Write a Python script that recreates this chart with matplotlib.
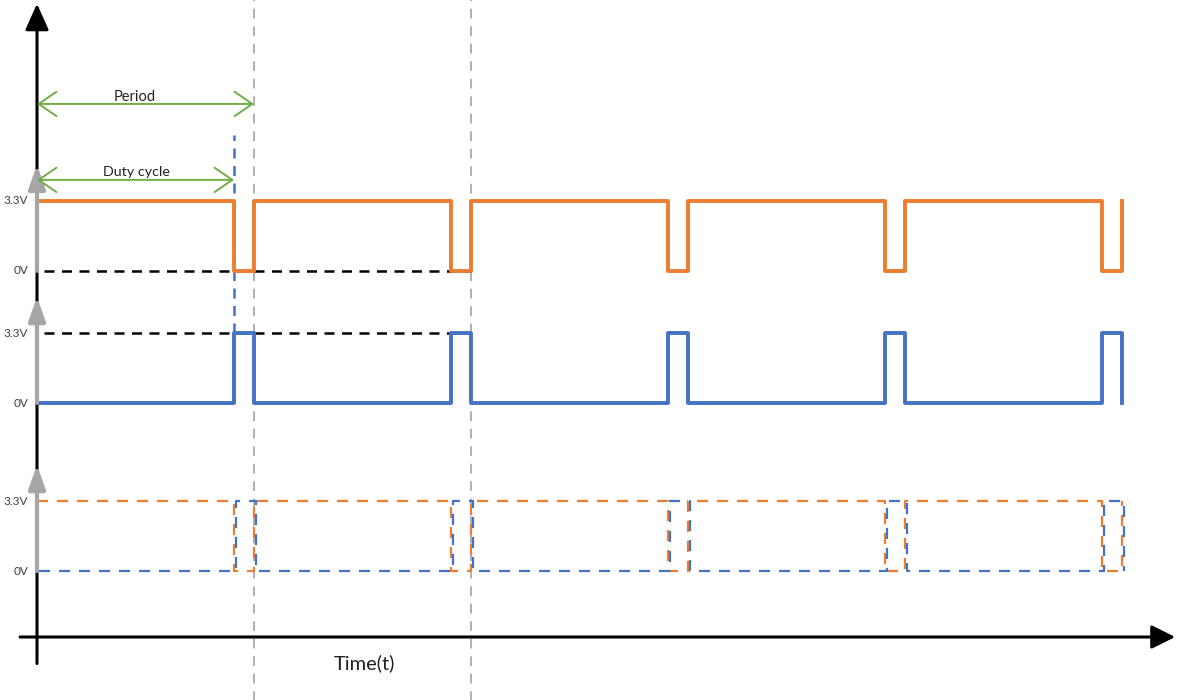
import numpy as np
import matplotlib.pyplot as plt

# fronts of the PWM signal (time in periods)
fall_t = [0.908, 1.908, 2.908, 3.908, 4.908]
rise_t = [1.0, 2.0, 3.0, 4.0, 5.0]
v_high = 3.3
v_low = 0.0

# vertical offset of each trace (diagram units, 1 unit = 1 V)
base_orange = 17.26
base_blue = 11.03
base_both = 3.11

level_labels = ['3.3V', '0V']
marker_t = [1.0, 2.0]   # grey dashed guides

ORANGE = '#ED7D31'
BLUE = '#4472C4'
GREEN = '#70AD47'
GREY = '#A6A6A6'

plt.rcParams['font.family'] = ['Lato', 'DejaVu Sans']


def pwm(falls, rises, lo, hi, inverted=False):
    a, b = (hi, lo) if not inverted else (lo, hi)
    xs, ys = [0.0], [a]
    for f, r in zip(falls, rises):
        xs += [f, f, r, r]
        ys += [a, b, b, a]
    return np.array(xs), np.array(ys)


fig = plt.figure(figsize=(11.79, 7.0), dpi=100)
ax = fig.add_axes([0, 0, 1, 1])
ax.set_xlim(-0.1705, 5.2627)
ax.set_ylim(-2.970, 30.03)
ax.axis('off')

# grey guides
for t in marker_t:
    ax.plot([t, t], [-3, 31], color='#B0B0B0', lw=1.4, ls=(0, (5, 4)), zorder=1)

# main axes with arrows
ax.annotate('', xy=(0, 29.85), xytext=(0, -1.25),
            arrowprops=dict(arrowstyle='-|>,head_length=1.0,head_width=0.45', color='black',
                            lw=2.2, mutation_scale=16, shrinkA=0, shrinkB=0), zorder=5)
ax.annotate('', xy=(5.245, 0), xytext=(-0.078, 0),
            arrowprops=dict(arrowstyle='-|>,head_length=0.9,head_width=0.45', color='black',
                            lw=2.2, mutation_scale=16, shrinkA=0, shrinkB=0), zorder=5)
ax.text(1.51, -1.25, 'Time(t)', fontsize=14.5, color='#222222', ha='center', va='center')

# grey level arrows and labels on every trace
for b in [base_orange, base_blue, base_both]:
    ax.annotate('', xy=(0, b + 5.0), xytext=(0, b),
                arrowprops=dict(arrowstyle='-|>,head_length=0.9,head_width=0.32', color=GREY,
                                lw=3.0, mutation_scale=16, shrinkA=0, shrinkB=0), zorder=6)
    ax.text(-0.04, b + v_high, level_labels[0], fontsize=8.5, color='#404040',
            ha='right', va='center')
    ax.text(-0.04, b + v_low, level_labels[1], fontsize=8.5, color='#404040',
            ha='right', va='center')

# trace 1: orange
x, y = pwm(fall_t, rise_t, v_low, v_high)
ax.plot(x, y + base_orange, color=ORANGE, lw=2.8, zorder=4)
ax.plot([0.03, 2.0], [base_orange, base_orange], color='black', lw=1.8, ls=(0, (4, 3)), zorder=3)

# trace 2: blue (inverted)
x, y = pwm(fall_t, rise_t, v_low, v_high, inverted=True)
ax.plot(x, y + base_blue, color=BLUE, lw=2.8, zorder=4)
ax.plot([0.03, 2.0], [base_blue + v_high, base_blue + v_high], color='black', lw=1.8,
        ls=(0, (4, 3)), zorder=3)

# blue dashed marker of the duty cycle end
ax.plot([fall_t[0], fall_t[0]], [base_blue + v_high, 23.67], color=BLUE, lw=1.8,
        ls=(0, (4, 3)), zorder=3)

# trace 3: both dashed
x, y = pwm(fall_t, rise_t, v_low, v_high)
ax.plot(x, y + base_both, color=ORANGE, lw=1.6, ls=(0, (5, 4)), zorder=3)
x, y = pwm(fall_t, rise_t, v_low, v_high, inverted=True)
ax.plot(x + 0.008, y + base_both, color=BLUE, lw=1.6, ls=(0, (5, 4)), zorder=3)

# period / duty cycle dimension arrows
ax.annotate('', xy=(rise_t[0], 25.13), xytext=(0, 25.13),
            arrowprops=dict(arrowstyle='<->,head_length=0.8,head_width=0.55', color=GREEN,
                            lw=1.4, mutation_scale=16, shrinkA=0, shrinkB=0), zorder=7)
ax.text(0.45, 25.45, 'Period', fontsize=10.5, color='#222222', ha='center', va='center')
ax.annotate('', xy=(fall_t[0], 21.55), xytext=(0, 21.55),
            arrowprops=dict(arrowstyle='<->,head_length=0.8,head_width=0.55', color=GREEN,
                            lw=1.4, mutation_scale=16, shrinkA=0, shrinkB=0), zorder=7)
ax.text(0.456, 21.9, 'Duty cycle', fontsize=10.3, color='#222222', ha='center', va='center')

fig.savefig('out.png', dpi=100)
